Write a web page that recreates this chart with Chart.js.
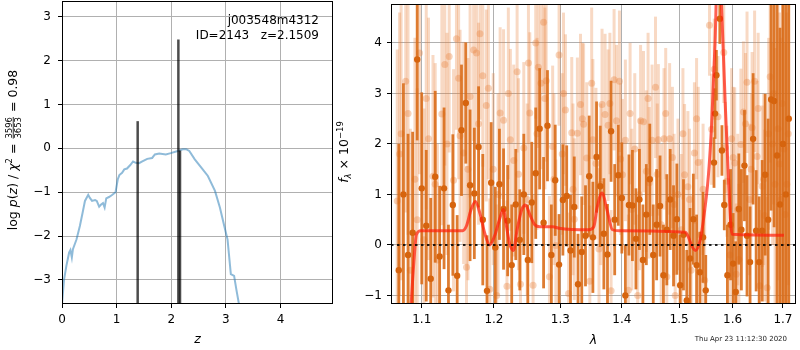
<!DOCTYPE html>
<html lang="en">
<head>
<meta charset="UTF-8">
<title>Redshift fit j003548m4312</title>
<script src="https://cdn.jsdelivr.net/npm/chart.js"></script>
<style>
  body { margin: 0; background: #fff; font-family: "DejaVu Sans", sans-serif; }
  #wrap { position: relative; width: 800px; height: 350px; overflow: hidden; }
  canvas { position: absolute; top: 0; }
  #pzChart { left: 0; }
  #specChart { left: 335px; }
  #stamp { position: absolute; right: 13px; top: 335px; font-size: 7px; color: #222; }
</style>
</head>
<body>
<div id="wrap">
  <canvas id="pzChart" width="345" height="350"></canvas>
  <canvas id="specChart" width="465" height="350"></canvas>
  <div id="stamp">Thu Apr 23 11:12:30 2020</div>
</div>

<script>
  // ---- p(z) panel ----
  const zGrid = [0, 0.037, 0.08, 0.13, 0.154, 0.18, 0.2, 0.265, 0.327, 0.377, 0.42, 0.48, 0.51, 0.55, 0.605, 0.636,
    0.68, 0.716, 0.75, 0.78, 0.81, 0.86, 0.91, 0.98, 1.02, 1.05, 1.10, 1.14, 1.19, 1.25, 1.30, 1.35, 1.41, 1.47,
    1.56, 1.65, 1.70, 1.78, 1.90, 1.99, 2.12, 2.21, 2.27, 2.33, 2.43, 2.55, 2.67, 2.80, 2.89, 2.97, 3.03, 3.09,
    3.15, 3.19, 3.26];
  const logPz = [-3.55, -3.0, -2.68, -2.38, -2.32, -2.49, -2.30, -2.08, -1.77, -1.47, -1.20, -1.06, -1.13, -1.20,
    -1.18, -1.20, -1.33, -1.28, -1.25, -1.35, -1.14, -1.11, -1.07, -1.0, -0.71, -0.61, -0.56, -0.48, -0.46, -0.38,
    -0.30, -0.33, -0.34, -0.30, -0.24, -0.22, -0.14, -0.12, -0.14, -0.11, -0.06, -0.02, -0.02, -0.06, -0.25,
    -0.44, -0.63, -0.97, -1.35, -1.77, -2.08, -2.87, -2.91, -3.21, -3.7];
  const zPeaks = [1.385, 2.13, 2.16];
  const peakTops = [0.62, 2.48, -0.05];
  const zTicks = [0, 1, 2, 3, 4];
  const pzTicks = [-3, -2, -1, 0, 1, 2, 3];
  const fieldName = 'j003548m4312';
  const objLabel = 'ID=2143   z=2.1509';

  // ---- spectrum panel ----
  // light points (other beams)
  const lamA = [1.068, 1.073, 1.079, 1.085, 1.091, 1.097, 1.103, 1.109, 1.115, 1.121, 1.127, 1.131, 1.137, 1.143,
    1.147, 1.152, 1.157, 1.161, 1.166, 1.171, 1.175, 1.180, 1.184, 1.189, 1.194, 1.199, 1.204, 1.209, 1.214,
    1.219, 1.224, 1.229, 1.234, 1.239, 1.244, 1.249, 1.253, 1.258, 1.262, 1.266, 1.270, 1.274, 1.278, 1.283,
    1.288, 1.293, 1.298, 1.303, 1.308, 1.313, 1.318, 1.322, 1.327, 1.332, 1.337, 1.342, 1.347, 1.352, 1.357,
    1.362, 1.367, 1.372, 1.377, 1.382, 1.387, 1.391, 1.396, 1.401, 1.406, 1.411, 1.417, 1.422, 1.427, 1.432,
    1.437, 1.442, 1.447, 1.452, 1.458, 1.463, 1.468, 1.473, 1.478, 1.483, 1.488, 1.493, 1.498, 1.504, 1.510,
    1.516, 1.522, 1.528, 1.535, 1.541, 1.547, 1.556, 1.560, 1.565, 1.572, 1.583, 1.586, 1.589, 1.595, 1.601,
    1.604, 1.607, 1.612, 1.616, 1.621, 1.628, 1.633, 1.638, 1.643, 1.648, 1.653, 1.658, 1.663, 1.668, 1.674,
    1.679, 1.684, 1.690, 1.696, 1.702, 1.708];
  const fluxA = [0.87, 2.2, 3.24, -0.5, 1.3, 3.8, 0.1, 2.1, 1.36, -0.3, 2.59, 3.57, 3.73, 1.28, 4.08, 2.16, 1.82,
    -0.44, 2.94, 3.86, 3.8, 4.18, 3.35, 2.76, -0.88, 1.5, -1.0, 2.61, 2.47, -0.82, 2.08, 1.67, 3.43, -0.78, 1.92,
    0.9, 2.61, -0.8, 4.0, 3.52, 3.2, 4.41, 3.25, -0.63, 1.95, -0.01, 3.76, 1.8, 2.67, -0.96, 2.22, 0.51, 2.21,
    2.78, 2.39, 1.72, -0.72, 2.08, 1.61, -0.08, 2.78, 2.58, 2.37, -0.91, 3.27, 2.46, 3.24, 1.39, 2.07, -0.9, 0.7,
    1.9, -1.0, 2.46, 2.44, 1.46, 1.23, 2.07, 3.12, 2.08, 0.4, 2.1, -0.63, 2.1, 1.73, -1.0, 1.0, 0.3, 1.39, 1.15,
    -0.5, 1.82, 1.63, 0.2, -0.7, 4.35, 2.29, 3.48, 2.54, 3.81, 1.93, 1.26, -0.2, 1.73, 1.62, -0.58, -0.29, 1.99,
    2.63, 3.22, 0.9, 2.32, 3.24, 1.75, -0.81, 1.16, 0.58, -0.85, 3.33, 2.0, 1.2, 2.3, 0.9, 1.9, 1.2];
  const errA = [3.0, 2.9, 2.6, 2.8, 2.8, 2.4, 2.6, 2.4, 2.4, 2.3, 2.2, 2.0, 1.9, 2.2, 1.8, 2.1, 2.2, 2.0, 2.0, 1.8,
    1.9, 1.7, 1.8, 1.9,
    1.8, 1.9, 1.8, 1.7, 1.8, 1.7, 1.8, 1.9, 1.6, 1.8, 1.7, 1.9, 1.6, 1.8, 1.5, 1.6, 1.7, 1.4, 1.6, 1.6, 1.6, 1.7,
    1.4, 1.6, 1.5, 1.6,
    1.5, 1.6, 1.5, 1.4, 1.6, 1.5, 1.5, 1.6, 1.5, 1.6, 1.5, 1.6, 1.5, 1.6, 1.4, 1.5, 1.4, 1.5, 1.6, 1.5, 1.6, 1.5,
    1.6, 1.5, 1.4, 1.6, 1.5, 1.5, 1.4, 1.5, 1.6, 1.4, 1.5, 1.5, 1.4, 1.5, 1.5, 1.5, 1.4, 1.5, 1.5, 1.4, 1.5, 1.5,
    1.4,
    1.0, 1.1, 1.0, 1.2, 1.0, 0.9, 1.1,
    1.5, 1.4, 1.5, 1.4, 1.5, 1.5, 1.4, 1.4, 1.5, 1.5, 1.4, 1.5, 1.5, 1.6, 1.7, 1.8, 1.7, 2.0, 2.7, 3.0, 3.2, 3.2,
    3.4];
  const lamC = [1.071, 1.082, 1.094, 1.106, 1.118, 1.134, 1.150, 1.163, 1.178, 1.192, 1.206, 1.221, 1.236, 1.251,
    1.264, 1.276, 1.290, 1.305, 1.320, 1.335, 1.350, 1.365, 1.380, 1.398, 1.414, 1.430, 1.445, 1.461, 1.476,
    1.491, 1.507, 1.519, 1.532, 1.544, 1.598, 1.610, 1.625, 1.636, 1.650, 1.661, 1.671, 1.681, 1.693, 1.699,
    1.705, 1.711];
  const fluxC = [1.8, 2.6, 0.5, 2.9, 1.2, 2.0, 3.3, 1.5, 2.4, 3.1, 1.0, 3.0, 1.4, 3.6, 2.2, 2.9, 1.3, 3.0, 1.1,
    2.5, 3.2, 1.2, 2.8, 1.7, 2.6, 1.0, 2.9, 1.4, 2.6, 0.8, 2.2, 0.9, 2.5, 1.1, 2.1, 0.7, 2.4, 1.5, 2.7, 1.3, 2.2,
    3.0, 1.6, 2.8, 0.6, 2.2];
  const errC = [2.8, 2.4, 2.6, 2.2, 2.4, 2.2, 2.0, 2.2, 2.0, 1.8, 2.0, 1.7, 1.9, 1.6, 1.9, 1.8, 1.7, 1.6, 1.7,
    1.5, 1.5, 1.6, 1.4, 1.5, 1.4, 1.5, 1.3, 1.4, 1.3, 1.4, 1.3, 1.4, 1.2, 1.3, 1.4, 1.5, 1.4, 1.5, 1.5, 1.7, 1.9,
    2.2, 3.0, 2.8, 3.4, 3.0];

  // dark points (main beam)
  const lamB = [1.070, 1.076, 1.082, 1.088, 1.094, 1.100, 1.106, 1.112, 1.118, 1.124, 1.130, 1.136, 1.142, 1.148,
    1.154, 1.160, 1.166, 1.172, 1.178, 1.184, 1.190, 1.196, 1.202, 1.208, 1.214, 1.220, 1.226, 1.232, 1.238,
    1.244, 1.250, 1.256, 1.262, 1.268, 1.274, 1.280, 1.286, 1.292, 1.298, 1.304, 1.310, 1.316, 1.322, 1.328,
    1.334, 1.340, 1.346, 1.352, 1.358, 1.364, 1.370, 1.376, 1.382, 1.388, 1.394, 1.400, 1.406, 1.412, 1.418,
    1.424, 1.430, 1.436, 1.442, 1.448, 1.454, 1.460, 1.466, 1.472, 1.478, 1.484, 1.490, 1.496, 1.502, 1.508,
    1.514, 1.520, 1.526, 1.532, 1.538, 1.544, 1.549, 1.5645, 1.5665, 1.569, 1.5755, 1.5795, 1.584, 1.590, 1.596,
    1.601, 1.606, 1.612, 1.617, 1.623, 1.628, 1.634, 1.640, 1.646, 1.652, 1.658, 1.664, 1.670, 1.676, 1.682,
    1.688, 1.694, 1.700, 1.706, 1.712];
  const fluxB = [-0.5, 1.0, -0.2, 0.24, 3.67, 1.12, 0.38, -0.67, 1.35, -0.23, 1.12, -0.9, 0.79, -0.61, 2.27, 2.81,
    1.18, 1.02, 1.94, 0.5, -0.91, 1.23, -0.05, 1.2, 0.71, 0.48, -0.4, 0.8, 0.1, 1.0, -0.3,
    0.84, 1.42, 2.3, 0.44, 2.36, -0.2, 1.28, -0.39, 0.89, 0.97, -0.11, 0.75, -0.78, -0.14, 0.18, 1.36, 0.15,
    1.74, 1.16, 0.22, -0.19, 2.25, 0.5, 1.38, 0.93, -1.0, 0.79, 0.78, 0.12,
    0.9, -0.3, 0.6, 1.3, -0.2, 0.4, 0.77, -0.6, 0.3, 0.9, 0.18, 0.51, -0.8, 0.2, -1.1, -0.27, 0.51, -0.4, -0.54,
    0.15, -0.9,
    1.63, 2.6, 3.36, 4.48, 1.87, 0.79,
    -0.6, 0.4, -0.37, -0.93, 0.71, 0.3, 1.57, 0.18, -0.34, 2.1, 0.28, -0.34, 0.28, 1.39, 0.5, 2.88, 2.85, 1.77,
    0.8, 2.0, 1.0, 2.5];
  const errB = [2.5, 2.2, 2.4, 2.0, 1.6, 1.9, 1.5, 1.6, 1.7, 1.4, 1.6, 1.3, 1.4, 1.2, 1.3, 1.2, 1.5, 1.3, 1.2, 1.3,
    1.1, 1.2, 1.2, 1.1, 1.2, 1.1, 1.2, 1.1, 1.0, 1.2, 1.1,
    1.2, 1.3, 1.2, 1.3, 1.1, 1.0, 1.1, 1.0, 1.1, 1.0, 1.1, 1.0, 1.0, 1.1, 1.0, 1.2, 1.1, 1.1, 1.2, 1.1, 1.0,
    1.0, 1.1, 1.0, 1.1, 1.0, 1.0, 1.1, 1.0,
    1.0, 1.1, 1.0, 1.1, 1.0, 1.1, 1.0, 1.0, 1.1, 1.0, 1.0, 1.1, 1.0, 1.1, 1.0, 1.0, 0.9, 1.0, 0.8, 0.9, 0.7,
    0.5, 0.5, 0.5, 0.5, 0.5, 0.5,
    1.0, 1.1, 1.0, 1.0, 1.1, 1.2, 1.1, 1.2, 1.1, 1.3, 1.2, 1.3, 1.4, 1.6, 2.0, 2.2, 2.5, 3.0, 3.5, 3.5, 4.0, 4.0];

  // best-fit model
  const modelLam = [1.080, 1.0861, 1.0904, 1.0929, 1.0990, 1.1555, 1.1610, 1.1670, 1.1735, 1.1800, 1.1870,
    1.1940, 1.2010, 1.2080, 1.2137, 1.2185, 1.2230, 1.2285, 1.2340, 1.2410, 1.2466, 1.2530, 1.2605, 1.2680,
    1.2880, 1.2980, 1.3454, 1.3535, 1.3590, 1.3670, 1.3757, 1.3842, 1.3954, 1.5112, 1.5172, 1.5232, 1.5300,
    1.5385, 1.5445, 1.5541, 1.5601, 1.5665, 1.5729, 1.5793, 1.5857, 1.5922, 1.5988, 1.7020];
  const modelFlux = [-3.0, -1.17, -0.18, 0.2, 0.28, 0.28, 0.38, 0.68, 0.86, 0.62, 0.22, 0.0, 0.18, 0.50, 0.70,
    0.35, 0.02, -0.11, 0.30, 0.70, 0.79, 0.60, 0.40, 0.36, 0.36, 0.33, 0.30, 0.36, 0.74, 1.03, 0.67, 0.30, 0.28,
    0.25, 0.15, -0.02, -0.11, 0.09, 0.48, 1.39, 2.4, 4.0, 6.2, 4.6, 2.83, 1.26, 0.21, 0.19];
  const lamTicks = [1.1, 1.2, 1.3, 1.4, 1.5, 1.6, 1.7];
  const fluxTicks = [-1, 0, 1, 2, 3, 4];

  const FONT = '"DejaVu Sans", sans-serif';
  const tickFont = { family: FONT, size: 12 };
  const minus = v => String(v).replace('-', '\u2212');
  const pts = (xs, ys) => xs.map((x, i) => ({ x: x, y: ys[i] }));

  Chart.defaults.font.family = FONT;

  // vertical error bars, drawn just before each dataset's markers
  const errBars = {
    id: 'errBars',
    beforeDatasetDraw(chart, args) {
      const ds = chart.data.datasets[args.index];
      if (!ds.errs) return;
      const { ctx, chartArea: a, scales: { x, y } } = chart;
      ctx.save();
      ctx.beginPath();
      ctx.rect(a.left, a.top, a.right - a.left, a.bottom - a.top);
      ctx.clip();
      ctx.strokeStyle = ds.barColor;
      ctx.lineWidth = ds.barWidth;
      ds.data.forEach((p, i) => {
        const px = x.getPixelForValue(p.x);
        ctx.beginPath();
        ctx.moveTo(px, y.getPixelForValue(p.y - ds.errs[i]));
        ctx.lineTo(px, y.getPixelForValue(p.y + ds.errs[i]));
        ctx.stroke();
      });
      ctx.restore();
    }
  };

  const frame = {
    id: 'frame',
    afterDraw(chart) {
      const { ctx, chartArea: a } = chart;
      ctx.save();
      ctx.strokeStyle = '#000';
      ctx.lineWidth = 1;
      ctx.strokeRect(a.left + 0.5, a.top + 0.5, a.right - a.left - 1, a.bottom - a.top - 1);
      ctx.restore();
    }
  };

  // rotated mathtext-ish label: parts laid out along the baseline
  function drawRotated(ctx, cx, cy, parts) {
    ctx.save();
    ctx.translate(cx, cy);
    ctx.rotate(-Math.PI / 2);
    ctx.fillStyle = '#000';
    ctx.textBaseline = 'alphabetic';
    ctx.textAlign = 'left';
    let w = 0;
    parts.forEach(p => {
      ctx.font = p.f;
      p.w = p.num ? Math.max(ctx.measureText(p.num).width, ctx.measureText(p.den).width) + 2
                  : ctx.measureText(p.t).width;
      w += p.w;
    });
    let x = -w / 2;
    parts.forEach(p => {
      ctx.font = p.f;
      if (p.num) {
        ctx.textAlign = 'center';
        ctx.fillText(p.num, x + p.w / 2, -5.5);
        ctx.fillText(p.den, x + p.w / 2, 3.5);
        ctx.fillRect(x + 1, -4.2, p.w - 2, 0.8);
        ctx.textAlign = 'left';
      } else {
        ctx.fillText(p.t, x, p.dy || 0);
      }
      x += p.w;
    });
    ctx.restore();
  }

  const F = '12.5px ' + FONT, FI = 'italic 12.5px ' + FONT, FS = '8.5px ' + FONT, FSI = 'italic 8.5px ' + FONT;

  const pzText = {
    id: 'pzText',
    afterDraw(chart) {
      const ctx = chart.ctx;
      const a = chart.chartArea;
      ctx.save();
      ctx.fillStyle = '#000';
      ctx.font = '12px ' + FONT;
      ctx.textAlign = 'right';
      ctx.fillText(fieldName, 319, 24);
      ctx.fillText(objLabel, 319, 39);
      ctx.textAlign = 'center';
      ctx.font = FI;
      ctx.fillText('z', (a.left + a.right) / 2, 343);
      ctx.restore();
      drawRotated(ctx, 17, 150, [
        { t: 'log ', f: F }, { t: 'p', f: FI }, { t: '(', f: F }, { t: 'z', f: FI }, { t: ') / ', f: F },
        { t: '\u03c7', f: FI }, { t: '2', f: FS, dy: -5 }, { t: ' = ', f: F },
        { num: '3596', den: '3653', f: FS }, { t: ' = 0.98', f: F }
      ]);
    }
  };

  const specText = {
    id: 'specText',
    afterDraw(chart) {
      const ctx = chart.ctx;
      const a = chart.chartArea;
      ctx.save();
      ctx.fillStyle = '#000';
      ctx.textAlign = 'center';
      ctx.font = FI;
      ctx.fillText('\u03bb', (a.left + a.right) / 2, 344);
      ctx.restore();
      drawRotated(ctx, 13, 152, [
        { t: 'f', f: FI }, { t: '\u03bb', f: FSI, dy: 3 }, { t: ' \u00d7 10', f: F }, { t: '\u221219', f: FS, dy: -5.5 }
      ]);
    }
  };

  const gridOpts = { color: '#b0b0b0', lineWidth: 1, tickColor: '#000', tickLength: 4 };
  // fixed axis boxes so the plot areas land where the reference has them
  const fixX = s => { s.height = 46; s.paddingLeft = 0; s.paddingRight = 0; };
  const fixY = w => s => { s.width = w; s.paddingTop = 0; s.paddingBottom = 0; };

  const lightBar = 'rgba(232,130,60,0.3)', lightDot = 'rgba(232,130,60,0.35)';

  new Chart(document.getElementById('pzChart'), {
    type: 'scatter',
    data: {
      datasets: [
        { data: pts(zGrid, logPz), showLine: true, borderColor: 'rgba(31,119,180,0.5)', borderWidth: 2,
          pointRadius: 0, clip: 0, order: 2 },
        ...zPeaks.map((z, i) => ({
          data: [{ x: z, y: -3.6 }, { x: z, y: peakTops[i] }], showLine: true,
          borderColor: 'rgba(0,0,0,0.7)', borderWidth: 2.5, pointRadius: 0, clip: 0, order: 1
        }))
      ]
    },
    options: {
      responsive: false,
      animation: false,
      events: [],
      layout: { padding: { top: 1, right: 12, left: 0, bottom: 0 } },
      plugins: { legend: { display: false }, tooltip: { enabled: false } },
      scales: {
        x: {
          type: 'linear', min: 0, max: 4.96,
          afterBuildTicks: s => { s.ticks = zTicks.map(v => ({ value: v })); },
          afterFit: fixX,
          grid: gridOpts, border: { display: false },
          ticks: { color: '#000', font: tickFont, padding: 5, maxRotation: 0, callback: v => minus(v) }
        },
        y: {
          min: -3.55, max: 3.36,
          afterBuildTicks: s => { s.ticks = pzTicks.map(v => ({ value: v })); },
          afterFit: fixY(62),
          grid: gridOpts, border: { display: false },
          ticks: { color: '#000', font: tickFont, padding: 7, callback: v => minus(v) }
        }
      }
    },
    plugins: [frame, pzText]
  });

  new Chart(document.getElementById('specChart'), {
    type: 'scatter',
    data: {
      datasets: [
        { data: pts(lamA, fluxA), errs: errA, barColor: lightBar, barWidth: 3,
          pointRadius: 3.5, backgroundColor: lightDot, borderWidth: 0, clip: 0, order: 5 },
        { data: pts(lamC, fluxC), errs: errC, barColor: lightBar, barWidth: 3,
          pointRadius: 3.5, backgroundColor: lightDot, borderWidth: 0, clip: 0, order: 4 },
        { data: pts(lamB, fluxB), errs: errB, barColor: 'rgba(217,106,20,0.88)', barWidth: 2.8,
          pointRadius: 3.2, backgroundColor: 'rgb(214,100,14)', borderWidth: 0, clip: 0, order: 3 },
        { data: pts(modelLam, modelFlux), showLine: true, borderColor: 'rgba(255,30,10,0.7)', borderWidth: 3,
          pointRadius: 0, cubicInterpolationMode: 'monotone', clip: 0, order: 2 },
        { data: [{ x: 1.06, y: 0 }, { x: 1.727, y: 0 }], showLine: true, borderColor: 'rgba(0,0,0,0.85)',
          borderWidth: 2, borderDash: [2.5, 3.5], pointRadius: 0, clip: 0, order: 1 }
      ]
    },
    options: {
      responsive: false,
      animation: false,
      events: [],
      layout: { padding: { top: 1, right: 1, left: 0, bottom: 0 } },
      plugins: { legend: { display: false }, tooltip: { enabled: false } },
      scales: {
        x: {
          type: 'logarithmic', min: 1.06, max: 1.727,
          afterBuildTicks: s => { s.ticks = lamTicks.map(v => ({ value: v })); },
          afterFit: fixX,
          grid: gridOpts, border: { display: false },
          ticks: { color: '#000', font: tickFont, padding: 5, maxRotation: 0, autoSkip: false,
                   callback: v => Number(v).toFixed(1) }
        },
        y: {
          min: -1.17, max: 4.77,
          afterBuildTicks: s => { s.ticks = fluxTicks.map(v => ({ value: v })); },
          afterFit: fixY(56),
          grid: gridOpts, border: { display: false },
          ticks: { color: '#000', font: tickFont, padding: 5, callback: v => minus(v) }
        }
      }
    },
    plugins: [errBars, frame, specText]
  });
</script>
</body>
</html>
